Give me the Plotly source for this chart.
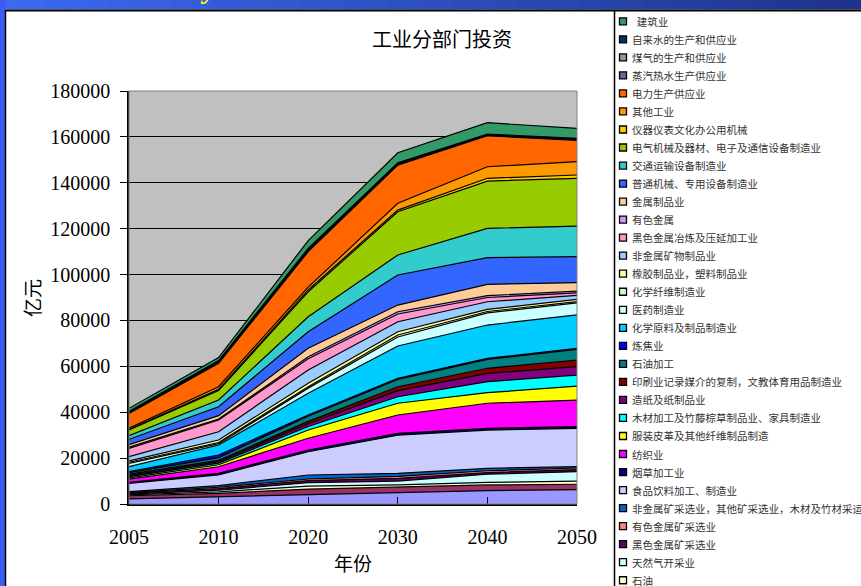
import plotly.graph_objects as go

# ---------------- data ----------------
years = ["2005", "2010", "2020", "2030", "2040", "2050"]
y_ticks = [0, 20000, 40000, 60000, 80000, 100000, 120000, 140000, 160000, 180000]

# sector names, bottom of stack -> top of stack
sectors = [
    "煤炭开采和洗选业",
    "其他采矿业",
    "石油",
    "天然气开采业",
    "黑色金属矿采选业",
    "有色金属矿采选业",
    "非金属矿采选业，其他矿采选业，木材及竹材采运业",
    "食品饮料加工、制造业",
    "烟草加工业",
    "纺织业",
    "服装皮革及其他纤维制品制造",
    "木材加工及竹藤棕草制品业、家具制造业",
    "造纸及纸制品业",
    "印刷业记录媒介的复制，文教体育用品制造业",
    "石油加工",
    "炼焦业",
    "化学原料及制品制造业",
    "医药制造业",
    "化学纤维制造业",
    "橡胶制品业，塑料制品业",
    "非金属矿物制品业",
    "黑色金属冶炼及压延加工业",
    "有色金属",
    "金属制品业",
    "普通机械、专用设备制造业",
    "交通运输设备制造业",
    "电气机械及器材、电子及通信设备制造业",
    "仪器仪表文化办公用机械",
    "其他工业",
    "电力生产供应业",
    "蒸汽热水生产供应业",
    "煤气的生产和供应业",
    "自来水的生产和供应业",
    "建筑业",
]

colors = [
    "#9999FF", "#993366", "#FFFFCC", "#CCFFFF", "#660066", "#FF8080", "#0066CC",
    "#CCCCFF", "#000080", "#FF00FF", "#FFFF00", "#00FFFF", "#800080", "#800000",
    "#008080", "#0000FF", "#00CCFF", "#CCFFFF", "#CCFFCC", "#FFFF99", "#99CCFF",
    "#FF99CC", "#CC99FF", "#FFCC99", "#3366FF", "#33CCCC", "#99CC00", "#FFCC00",
    "#FF9900", "#FF6600", "#666699", "#969696", "#003366", "#339966",
]

# investment values (亿元) per sector, years 2005..2050
coal =            [2200, 3200, 4300, 5000, 5800, 6300]
other_mining =    [1400, 1450, 2200, 2500, 2500, 2300]
oil =             [400, 650, 1300, 800, 1100, 1400]
gas =             [300, 700, 1500, 1700, 3600, 4100]
ferrous_mining =  [400, 700, 900, 1200, 700, 900]
nonferrous_min =  [300, 600, 700, 800, 800, 700]
nonmetal_mining = [400, 700, 1750, 1350, 1050, 600]
food =            [3600, 4700, 10150, 16650, 16650, 16700]
tobacco =         [450, 650, 750, 800, 800, 700]
textile =         [1350, 2900, 5100, 8000, 10900, 11600]
garment =         [600, 850, 3600, 5100, 4600, 6100]
timber =          [500, 700, 1550, 2850, 4800, 4800]
paper =           [600, 600, 1200, 2650, 3650, 3650]
printing =        [500, 600, 1000, 1700, 2200, 2900]
petro_proc =      [700, 1200, 2300, 3200, 3850, 4650]
coking =          [400, 1150, 500, 450, 500, 450]
chemicals =       [2200, 4350, 9450, 14100, 14500, 14550]
pharma =          [1400, 600, 2250, 3950, 5300, 5300]
chem_fiber =      [500, 500, 600, 850, 600, 500]
rubber_plastic =  [550, 1100, 1500, 1450, 950, 1000]
nonmetal_prod =   [1850, 3600, 5800, 4350, 3300, 1700]
ferrous_smelt =   [3650, 5100, 4900, 3350, 1850, 1100]
nonferrous =      [550, 400, 900, 1000, 800, 800]
metal_products =  [1100, 1500, 3650, 2900, 4950, 3650]
machinery =       [2300, 3900, 7250, 13100, 11600, 11350]
transport_eq =    [1600, 2900, 6500, 8700, 12800, 13350]
electrical =      [2450, 4200, 10900, 18900, 20600, 20750]
instruments =     [250, 450, 800, 700, 1200, 1500]
other_industry =  [500, 1150, 1200, 2950, 5050, 5800]
power =           [6500, 10200, 15500, 16650, 13500, 9300]
steam =           [300, 400, 300, 300, 200, 300]
town_gas =        [200, 300, 400, 300, 200, 300]
water =           [300, 500, 700, 450, 350, 300]
construction =    [1400, 1300, 3400, 4350, 4950, 4300]

series_values = [
    coal, other_mining, oil, gas, ferrous_mining, nonferrous_min, nonmetal_mining,
    food, tobacco, textile, garment, timber, paper, printing, petro_proc, coking,
    chemicals, pharma, chem_fiber, rubber_plastic, nonmetal_prod, ferrous_smelt,
    nonferrous, metal_products, machinery, transport_eq, electrical, instruments,
    other_industry, power, steam, town_gas, water, construction,
]

# ---------------- layout geometry (pixels) ----------------
W, H = 861, 586
L, R, T, B = 129, 284, 91, 82
PW, PH = W - L - R, H - T - B


def xp(px):
    return (px - L) / PW


def yp(py):
    return (H - B - py) / PH


SERIF = "Liberation Serif, Times New Roman, serif"
CJK = "Noto Sans CJK SC, sans-serif"

fig = go.Figure()
for name, col, vals in zip(sectors, colors, series_values):
    fig.add_trace(go.Scatter(
        x=years, y=vals, name=name, mode="lines",
        stackgroup="one", fillcolor=col,
        line=dict(color="black", width=1.2),
        showlegend=False,
    ))

shapes = []
annotations = []

# header band (gradient imitation)
n = 40
c0 = (60, 105, 240)
c1 = (30, 52, 140)
for i in range(n):
    t = i / (n - 1)
    c = tuple(int(round(c0[k] + (c1[k] - c0[k]) * t)) for k in range(3))
    shapes.append(dict(type="rect", xref="paper", yref="paper",
                       x0=xp(W * i / n), x1=xp(W * (i + 1) / n + 1),
                       y0=yp(9.5), y1=yp(-2),
                       fillcolor="rgb(%d,%d,%d)" % c, line=dict(width=0), layer="above"))
# left stripe
shapes.append(dict(type="rect", xref="paper", yref="paper",
                   x0=xp(-2), x1=xp(5), y0=yp(H + 2), y1=yp(-2),
                   fillcolor="#3a5cf5", line=dict(width=0), layer="above"))
# frame lines
shapes.append(dict(type="line", xref="paper", yref="paper",
                   x0=xp(5), x1=xp(W + 5), y0=yp(10.5), y1=yp(10.5),
                   line=dict(color="black", width=2), layer="above"))
shapes.append(dict(type="line", xref="paper", yref="paper",
                   x0=xp(5.5), x1=xp(5.5), y0=yp(10), y1=yp(H + 5),
                   line=dict(color="black", width=1.5), layer="above"))
# legend panel separator
shapes.append(dict(type="line", xref="paper", yref="paper",
                   x0=xp(614.5), x1=xp(614.5), y0=yp(10), y1=yp(H + 5),
                   line=dict(color="black", width=1.5), layer="above"))
# plot-area frame (grey top/right)
shapes.append(dict(type="rect", xref="paper", yref="paper",
                   x0=0, x1=1, y0=0, y1=1,
                   line=dict(color="#808080", width=1), layer="above"))

# header text (mostly cut off at the top of the page)
annotations.append(dict(
    text="<b><i>Investment by industrial sectors</i></b>",
    xref="paper", yref="paper", x=xp(52), y=yp(6.5), xanchor="left", yanchor="bottom",
    showarrow=False, font=dict(family=SERIF, size=28, color="#FFFF00")))

# chart title and axis titles
annotations.append(dict(text="工业分部门投资", xref="paper", yref="paper",
                        x=xp(442), y=yp(38), xanchor="center", yanchor="middle",
                        showarrow=False, font=dict(family=CJK, size=20, color="black")))
annotations.append(dict(text="年份", xref="paper", yref="paper",
                        x=xp(353), y=yp(562), xanchor="center", yanchor="middle",
                        showarrow=False, font=dict(family=CJK, size=19, color="black")))
annotations.append(dict(text="亿元", xref="paper", yref="paper",
                        x=xp(31), y=yp(298), xanchor="center", yanchor="middle",
                        textangle=-90, showarrow=False,
                        font=dict(family=CJK, size=19, color="black")))

# manual legend (top of stack first)
for i, idx in enumerate(range(len(sectors) - 1, -1, -1)):
    yc = 21.3 + 18.03 * i
    shapes.append(dict(type="rect", xref="paper", yref="paper",
                       x0=xp(619.5), x1=xp(626.5), y0=yp(yc + 3.5), y1=yp(yc - 3.5),
                       fillcolor=colors[idx], line=dict(color="black", width=1.3),
                       layer="above"))
    label = sectors[idx]
    if idx == len(sectors) - 1:
        label = "\u00a0\u00a0" + label
    annotations.append(dict(text=label, xref="paper", yref="paper",
                            x=xp(630), y=yp(yc), xanchor="left", yanchor="middle",
                            showarrow=False,
                            font=dict(family=CJK, size=10.5, color="#333333")))

fig.update_layout(
    width=W, height=H, autosize=False,
    margin=dict(l=L, r=R, t=T, b=B, pad=0),
    paper_bgcolor="white", plot_bgcolor="#C0C0C0",
    showlegend=False,
    shapes=shapes, annotations=annotations,
    xaxis=dict(
        type="category", range=[0, 5], categoryorder="array", categoryarray=years,
        showgrid=False, zeroline=False,
        showline=True, linecolor="black", linewidth=1.5,
        ticks="inside", ticklen=7, tickcolor="black", tickwidth=1.2,
        tickfont=dict(family=SERIF, size=20, color="black"),
        ticklabelstandoff=14,
    ),
    yaxis=dict(
        range=[0, 180000], tickvals=y_ticks, ticktext=[str(v) for v in y_ticks],
        showgrid=True, gridcolor="black", gridwidth=1, zeroline=False,
        showline=True, linecolor="black", linewidth=1.5,
        ticks="outside", ticklen=7, tickcolor="black", tickwidth=1.2,
        tickfont=dict(family=SERIF, size=20, color="black"),
        ticklabelstandoff=6,
    ),
)

fig.write_html("out.html")
